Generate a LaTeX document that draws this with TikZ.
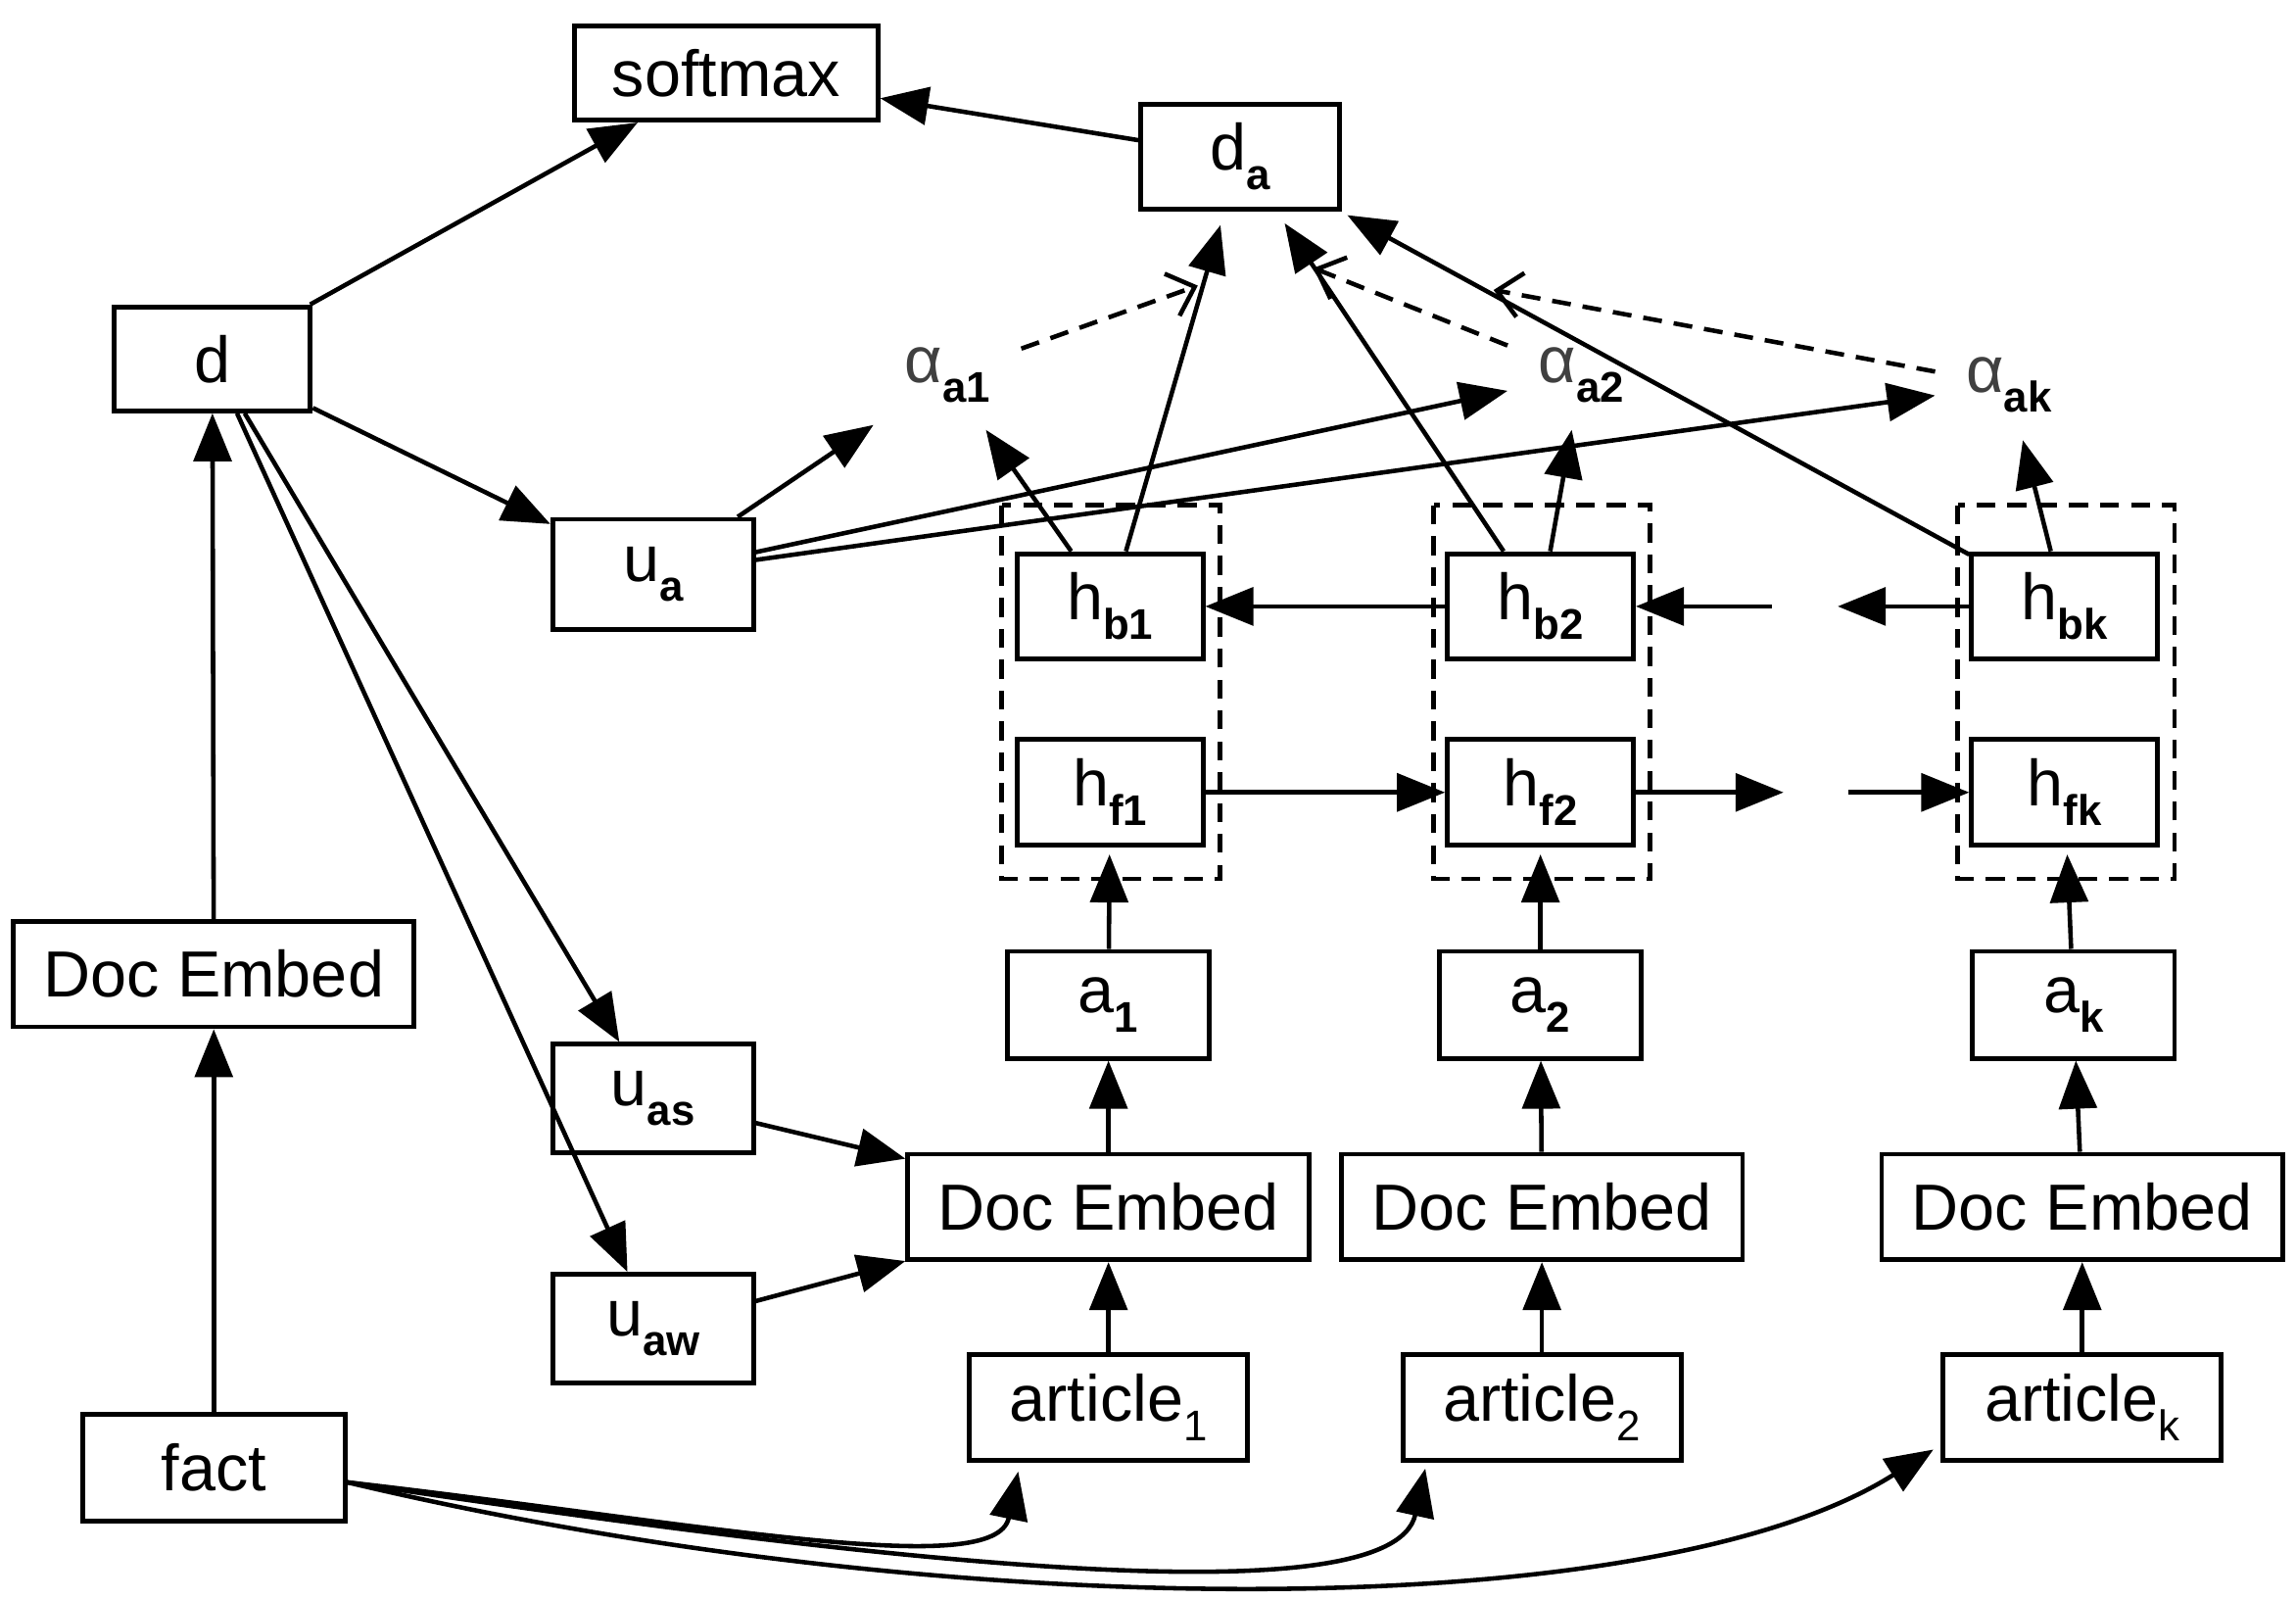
\documentclass[tikz,border=0pt]{standalone}
\usepackage{fontspec}
\setmainfont{Liberation Sans}
\usetikzlibrary{arrows.meta,calc}
\newcommand\sbs[1]{\raisebox{-0.3em}{\fontsize{12.5}{12.5}\selectfont\bfseries #1}}
\newcommand\sbr[1]{\raisebox{-0.3em}{\fontsize{12.5}{12.5}\selectfont #1}}
\begin{document}
\begin{tikzpicture}[x=0.015cm,y=-0.015cm,
 box/.style={draw, line width=1.4pt, inner sep=0pt, font=\fontsize{19}{22}\selectfont},
 arr/.style={line width=1.3pt, -{Triangle[length=14pt,width=11pt]}},
 darr/.style={line width=1.3pt, dash pattern=on 5.5pt off 3.5pt, -{Straight Barb[length=7pt,width=13pt]}},
 grp/.style={line width=1.3pt, dash pattern=on 5.5pt off 3.5pt},
 alph/.style={inner sep=0pt, minimum width=1.5cm, minimum height=1.11cm, text=black!75, font=\fontsize{19}{22}\selectfont}]
\useasboundingbox (0,0) rectangle (1568,1092);
% group boxes
\draw[grp] (684,345) rectangle (833,600);
\draw[grp] (979,345) rectangle (1127,600);
\draw[grp] (1337,345) rectangle (1485,600);
% nodes
\node[box, minimum width=3.105cm, minimum height=0.96cm] (soft) at (496,50) {softmax};
\node[box, minimum width=2.04cm, minimum height=1.08cm] (da) at (847,107) {d\sbs{a}};
\node[box, minimum width=2.01cm, minimum height=1.065cm] (d) at (145,245) {d};
\node[alph] (al1) at (647,256) {α\textcolor{black}{\sbs{a1}}};
\node[alph] (al2) at (1080,256) {α\textcolor{black}{\sbs{a2}}};
\node[alph] (alk) at (1372,263) {α\textcolor{black}{\sbs{ak}}};
\node[box, minimum width=2.055cm, minimum height=1.125cm] (ua) at (446,392) {u\sbs{a}};
\node[box, minimum width=1.905cm, minimum height=1.08cm] (hb1) at (758,414) {h\sbs{b1}};
\node[box, minimum width=1.905cm, minimum height=1.08cm] (hb2) at (1052,414) {h\sbs{b2}};
\node[box, minimum width=1.905cm, minimum height=1.08cm] (hbk) at (1410,414) {h\sbs{bk}};
\node[box, minimum width=1.905cm, minimum height=1.08cm] (hf1) at (758,541) {h\sbs{f1}};
\node[box, minimum width=1.905cm, minimum height=1.08cm] (hf2) at (1052,541) {h\sbs{f2}};
\node[box, minimum width=1.905cm, minimum height=1.08cm] (hfk) at (1410,541) {h\sbs{fk}};
\node[box, minimum width=4.1cm, minimum height=1.08cm] (de0) at (146,665) {Doc Embed};
\node[box, minimum width=2.07cm, minimum height=1.095cm] (a1) at (757,686) {a\sbs{1}};
\node[box, minimum width=2.07cm, minimum height=1.095cm] (a2) at (1052,686) {a\sbs{2}};
\node[box, minimum width=2.07cm, minimum height=1.095cm] (ak) at (1416,686) {a\sbs{k}};
\node[box, minimum width=2.055cm, minimum height=1.11cm] (uas) at (446,750) {u\sbs{as}};
\node[box, minimum width=4.11cm, minimum height=1.08cm] (de1) at (757,824) {Doc Embed};
\node[box, minimum width=4.11cm, minimum height=1.08cm] (de2) at (1053,824) {Doc Embed};
\node[box, minimum width=4.11cm, minimum height=1.08cm] (de3) at (1422,824) {Doc Embed};
\node[box, minimum width=2.055cm, minimum height=1.11cm] (uaw) at (446,907) {u\sbs{aw}};
\node[box, minimum width=2.85cm, minimum height=1.08cm] (ar1) at (757,961) {article\sbr{1}};
\node[box, minimum width=2.85cm, minimum height=1.08cm] (ar2) at (1053,961) {article\sbr{2}};
\node[box, minimum width=2.85cm, minimum height=1.08cm] (ark) at (1422,961) {article\sbr{k}};
\node[box, minimum width=2.685cm, minimum height=1.095cm] (fact) at (146,1002) {fact};
% free coordinates
\coordinate (bdotR) at (1210,414);
\coordinate (bdotL) at (1255,414);
\coordinate (fdotL) at (1218,541);
\coordinate (fdotR) at (1262,541);
\coordinate (x1) at (818,195);
\coordinate (x2) at (897,183);
\coordinate (xk) at (1020,198);
% connectors
\draw[arr] (d) -- (soft);
\draw[arr] (da) -- (soft);
\draw[arr] (d) -- (ua);
\draw[arr] (d) -- (uas);
\draw[arr] (d) -- (uaw);
\draw[arr] (de0) -- (d);
\draw[arr] (fact) -- (de0);
\draw[arr] (ua) -- (al1);
\draw[arr] (ua) -- (al2);
\draw[arr] (ua) -- (alk);
\draw[arr] (hb1) -- (al1);
\draw[arr] (hb2) -- (al2);
\draw[arr] (hbk) -- (alk);
\draw[arr, shorten >=4pt] (hb1) -- (da);
\draw[arr, shorten >=4pt] (hb2) -- (da);
\draw[arr, shorten >=2pt] (hbk) -- (da);
\draw[darr] (al1) -- (x1);
\draw[darr] (al2) -- (x2);
\draw[darr] (alk) -- (xk);
\draw[arr] (hb2) -- (hb1);
\draw[arr] (bdotR) -- (hb2);
\draw[arr] (hbk) -- (bdotL);
\draw[arr] (hf1) -- (hf2);
\draw[arr] (hf2) -- (fdotL);
\draw[arr] (fdotR) -- (hfk);
\draw[arr, shorten >=2pt] (a1) -- (hf1);
\draw[arr, shorten >=2pt] (a2) -- (hf2);
\draw[arr, shorten >=2pt] (ak) -- (hfk);
\draw[arr] (de1) -- (a1);
\draw[arr] (de2) -- (a2);
\draw[arr] (de3) -- (ak);
\draw[arr] (ar1) -- (de1);
\draw[arr] (ar2) -- (de2);
\draw[arr] (ark) -- (de3);
\draw[arr] (uas) -- (de1);
\draw[arr] (uaw) -- (de1);
% fact curves
\draw[arr] ($(fact.east)+(0,10)$) .. controls (480,1040) and (680,1080) .. ($(ar1.south west)+(35,6)$);
\draw[arr] ($(fact.east)+(0,10)$) .. controls (560,1060) and (950,1110) .. ($(ar2.south west)+(17,4)$);
\draw[arr] ($(fact.east)+(0,10)$) .. controls (650,1110) and (1130,1110) .. ($(ark.south west)+(-5,-9)$);
\end{tikzpicture}
\end{document}
